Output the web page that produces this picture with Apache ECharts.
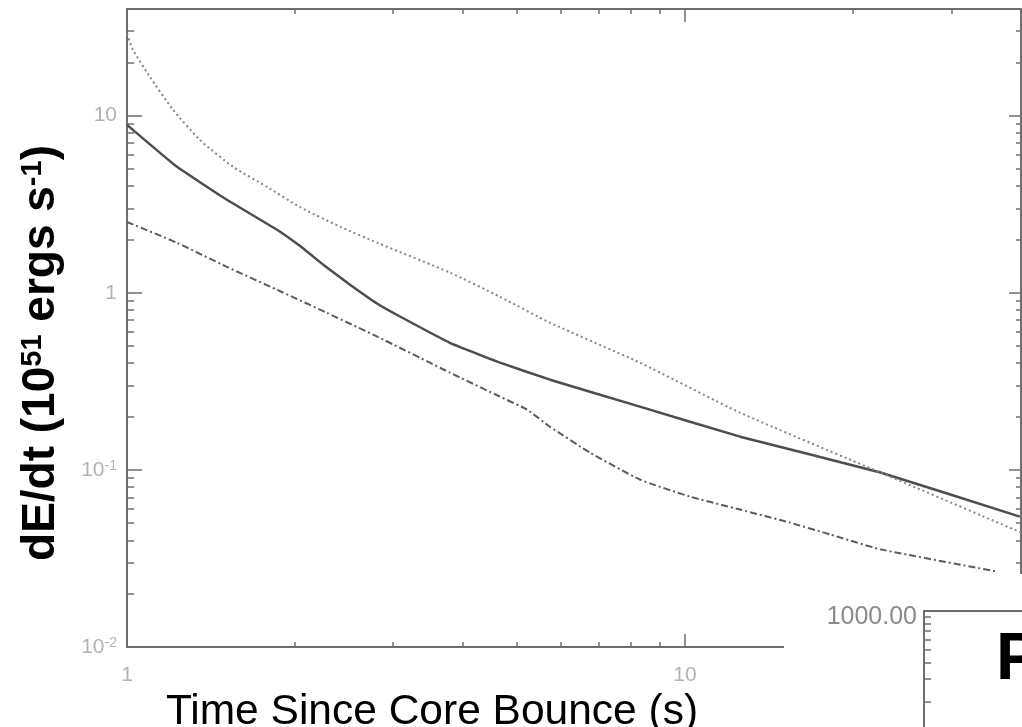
<!DOCTYPE html>
<html>
<head>
<meta charset="utf-8">
<title>dE/dt vs time since core bounce</title>
<script src="https://cdn.jsdelivr.net/npm/echarts@6.0.0/dist/echarts.min.js"></script>
<style>
  html, body { margin: 0; padding: 0; background: #fff; }
  #chart { width: 1022px; height: 727px; }
</style>
</head>
<body>
<div id="chart"></div>
<script>
// solid curve
const solidTime = [1, 1.229, 1.51, 1.857, 2.04, 2.26, 2.51, 2.81, 3.09, 3.79, 4.66, 5.73, 8.30, 12.55, 22.4, 39.8];
const solidRate = [8.87, 5.14, 3.35, 2.27, 1.84, 1.42, 1.11, 0.867, 0.732, 0.522, 0.403, 0.323, 0.2275, 0.154, 0.0966, 0.0545];

// dotted curve
const dottedTime = [1, 1.025, 1.10, 1.209, 1.351, 1.549, 1.782, 2.04, 2.41, 2.81, 3.79, 4.66, 5.73, 8.30, 12.55, 22.4, 40];
const dottedRate = [29, 23.5, 16.5, 10.8, 7.29, 5.14, 3.96, 3.05, 2.36, 1.915, 1.30, 0.949, 0.677, 0.403, 0.2105, 0.0966, 0.0443];

// dash-dot curve
const dashTime = [1, 1.229, 1.51, 1.857, 2.28, 2.81, 3.79, 4.66, 5.21, 5.73, 6.76, 8.30, 10.2, 12.55, 15.4, 18.2, 22.4, 36.2];
const dashRate = [2.51, 1.915, 1.40, 1.04, 0.771, 0.565, 0.354, 0.259, 0.219, 0.175, 0.125, 0.0882, 0.0707, 0.0597, 0.0504, 0.0432, 0.0356, 0.0267];

// ticks
const timeMajor = [1, 10];
const timeMinor = [2, 3, 4, 5, 6, 7, 8, 9, 20, 30];
const timeLabels = ['1', '10'];
const rateMajor = [0.01, 0.1, 1, 10];
const rateMinor = [0.02, 0.03, 0.04, 0.05, 0.06, 0.07, 0.08, 0.09,
  0.2, 0.3, 0.4, 0.5, 0.6, 0.7, 0.8, 0.9, 2, 3, 4, 5, 6, 7, 8, 9, 20, 30];
const rateLabels = ['10{sup|-2}', '10{sup|-1}', '1', '10'];

// inset (partly visible)
const insetMajor = [1000];
const insetMinor = [200, 300, 400, 500, 600, 700, 800, 900];
const insetLabels = ['1000.00'];

const FONT = "'Liberation Sans', Arial, Helvetica, sans-serif";
const AXIS_COLOR = '#6e6e6e';
const LABEL_COLOR = '#b3b3b3';

const pickLabel = (ticks, labels) => (v) => {
  const i = ticks.findIndex(t => Math.abs(Math.log10(t) - Math.log10(v)) < 1e-6);
  return i < 0 ? '' : labels[i];
};

const toPairs = (xs, ys) => xs.map((x, i) => [x, ys[i]]);

// one log axis carrying one set of ticks
const logAxis = (o) => ({
  type: 'log',
  logBase: 10,
  gridIndex: o.grid || 0,
  min: o.min,
  max: o.max,
  position: o.position,
  z: o.z || 0,
  axisLine: { show: !!o.line, lineStyle: { color: AXIS_COLOR, width: 2 } },
  axisTick: {
    show: true,
    inside: true,
    length: o.len,
    customValues: o.ticks,
    lineStyle: { color: AXIS_COLOR, width: 1.5 }
  },
  axisLabel: o.labels ? {
    show: true,
    customValues: o.ticks,
    formatter: pickLabel(o.ticks, o.labels),
    color: o.labelColor || LABEL_COLOR,
    fontSize: o.fontSize || 21,
    fontFamily: FONT,
    margin: o.margin,
    padding: o.labelPadding || 0,
    rich: {
      sup: { fontSize: 14, fontFamily: FONT, color: LABEL_COLOR, verticalAlign: 'top' }
    }
  } : { show: false },
  splitLine: { show: false },
  minorTick: { show: false }
});

const chart = echarts.init(document.getElementById('chart'));

const option = {
  animation: false,
  backgroundColor: '#fff',
  grid: [
    { left: 127, top: 9, right: 1, bottom: 80, outerBoundsMode: 'none', containLabel: false },
    { left: 924, top: 611, width: 200, height: 130, outerBoundsMode: 'none', containLabel: false }
  ],
  xAxis: [
    Object.assign(logAxis({ min: 1, max: 40, position: 'bottom', line: true, len: 13,
      ticks: timeMajor, labels: timeLabels, margin: 18 }), {
      name: 'Time Since Core Bounce (s)',
      nameLocation: 'middle',
      nameGap: 31,
      nameTextStyle: {
        fontSize: 42.5,
        fontFamily: FONT,
        color: '#000',
        padding: [0, 284, 0, 0]
      }
    }),
    logAxis({ min: 1, max: 40, position: 'bottom', len: 5, ticks: timeMinor }),
    logAxis({ min: 1, max: 40, position: 'top', line: true, len: 13, ticks: [10] }),
    logAxis({ min: 1, max: 40, position: 'top', len: 5, ticks: timeMinor }),
    {
      type: 'value',
      gridIndex: 1,
      min: 0,
      max: 1,
      position: 'top',
      z: 60,
      axisLine: { show: true, lineStyle: { color: AXIS_COLOR, width: 2 } },
      axisTick: { show: false },
      axisLabel: { show: false },
      splitLine: { show: false }
    }
  ],
  yAxis: [
    Object.assign(logAxis({ min: 0.01, max: 40, position: 'left', line: true, len: 15,
      ticks: rateMajor, labels: rateLabels, margin: 10 }), {
      name: 'dE/dt (10{sup|51} ergs s{sup|-1})',
      nameLocation: 'middle',
      nameGap: 63,
      nameRotate: 90,
      nameTextStyle: {
        fontSize: 46,
        fontWeight: 'bold',
        fontFamily: FONT,
        color: '#000',
        padding: [0, 50, 0, 0],
        rich: {
          sup: { fontSize: 29, fontWeight: 'bold', fontFamily: FONT, color: '#000', verticalAlign: 'top' }
        }
      }
    }),
    logAxis({ min: 0.01, max: 40, position: 'left', len: 7, ticks: rateMinor }),
    logAxis({ min: 0.01, max: 40, position: 'right', line: true, len: 12, ticks: rateMajor }),
    logAxis({ min: 0.01, max: 40, position: 'right', len: 5, ticks: rateMinor }),
    logAxis({ grid: 1, min: 100, max: 1000, position: 'left', line: true, len: 7, z: 60,
      ticks: insetMinor.concat(insetMajor), labels: insetMinor.map(() => '').concat(insetLabels),
      labelColor: '#8a8a8a', fontSize: 25, margin: 7, labelPadding: [12, 0, 0, 0] })
  ],
  graphic: [
    {
      // the inset panel covers the lower right corner
      type: 'rect',
      z: 50,
      shape: { x: 784, y: 574, width: 240, height: 155 },
      style: { fill: '#fff' }
    },
    {
      type: 'text',
      z: 60,
      style: {
        text: 'P',
        x: 996,
        y: 661,
        textVerticalAlign: 'middle',
        font: "bold 66px 'Liberation Sans', Arial, sans-serif",
        fill: '#000'
      }
    }
  ],
  series: [
    {
      name: 'solid',
      type: 'line',
      xAxisIndex: 0,
      yAxisIndex: 0,
      showSymbol: false,
      smooth: 0.1,
      data: toPairs(solidTime, solidRate),
      lineStyle: { color: '#4d4d4d', width: 2.5, type: 'solid' }
    },
    {
      name: 'dotted',
      type: 'line',
      xAxisIndex: 0,
      yAxisIndex: 0,
      showSymbol: false,
      smooth: 0.2,
      data: toPairs(dottedTime, dottedRate),
      lineStyle: { color: '#858585', width: 2, type: [2, 3] }
    },
    {
      name: 'dashdot',
      type: 'line',
      xAxisIndex: 0,
      yAxisIndex: 0,
      showSymbol: false,
      smooth: 0.15,
      data: toPairs(dashTime, dashRate),
      lineStyle: { color: '#5c5c5c', width: 2, type: [7, 3, 2, 3] }
    }
  ]
};

chart.setOption(option);
</script>
</body>
</html>
